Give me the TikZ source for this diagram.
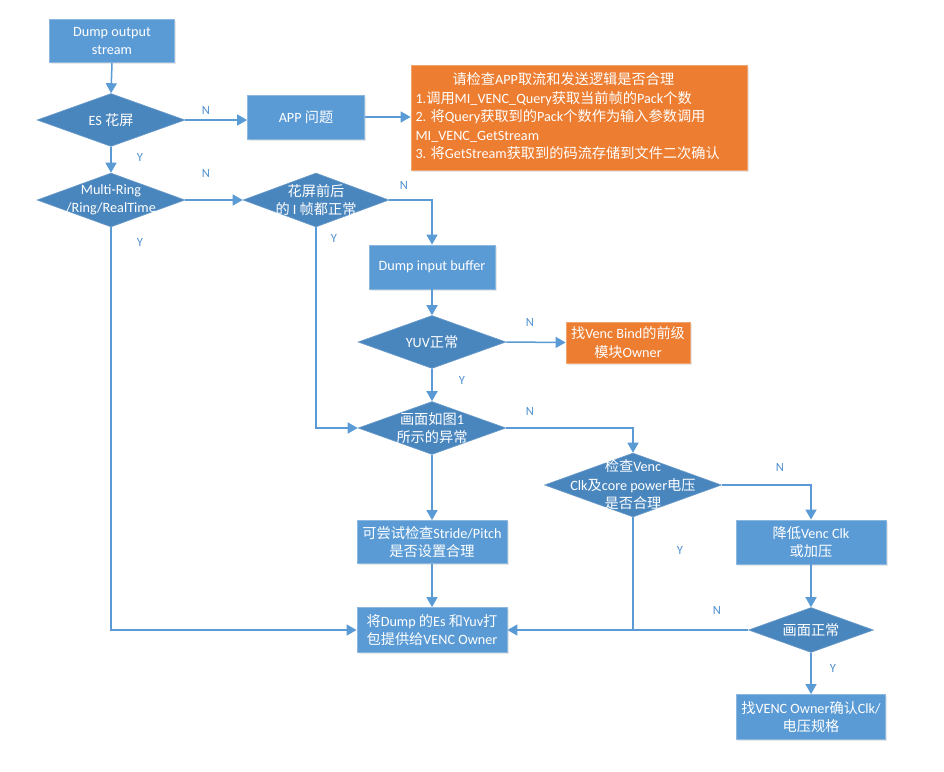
\documentclass[tikz,border=0pt]{standalone}
\usepackage{fontspec}
\setmainfont{Carlito}
\newfontfamily\cjk{Noto Sans CJK SC}
\usetikzlibrary{shapes.geometric,arrows.meta,shadows}
\XeTeXinterchartokenstate=1
\newXeTeXintercharclass\CJKcls
\newcount\cjkcnt
\cjkcnt="4E00
\loop
  \XeTeXcharclass\cjkcnt=\CJKcls
  \ifnum\cjkcnt<"9FFF \advance\cjkcnt by 1 \repeat
\XeTeXinterchartoks 0 \CJKcls = {\cjk}
\XeTeXinterchartoks 4095 \CJKcls = {\cjk}
\XeTeXinterchartoks \CJKcls 0 = {\normalfont}
\XeTeXinterchartoks \CJKcls 4095 = {\normalfont}
\definecolor{boxblue}{HTML}{5B9BD5}
\definecolor{boxedge}{HTML}{8CB8E0}
\definecolor{diablue}{HTML}{4A86BE}
\definecolor{orangebox}{HTML}{ED7D31}
\definecolor{lineblue}{HTML}{5B9BD5}
\definecolor{lblblue}{HTML}{4F90CF}
\tikzset{
  txt/.style={font=\fontsize{14.2}{18.5}\selectfont, text=white, align=center},
  bluebox/.style={rectangle, fill=boxblue, draw=boxedge, line width=0.8pt, inner sep=0pt,
    drop shadow={shadow xshift=1.5pt, shadow yshift=-1.5pt, opacity=0.18}},
  orbox/.style={rectangle, fill=orangebox, draw=orangebox!70!white, line width=0.8pt, inner sep=0pt,
    drop shadow={shadow xshift=1.5pt, shadow yshift=-1.5pt, opacity=0.18}},
  dia/.style={diamond, fill=diablue, draw=diablue!80!white, line width=0.6pt, inner sep=0pt},
  conn/.style={draw=lineblue, line width=1.5pt, -{Triangle[length=10pt,width=11pt]}},
  plain/.style={draw=lineblue, line width=1.5pt},
  lbl/.style={font=\fontsize{12.5}{14}\selectfont, text=lblblue}
}
\begin{document}
\begin{tikzpicture}[x=1pt,y=-1pt]
\path[use as bounding box, fill=white] (0,0) rectangle (944,771);

% nodes
\node[bluebox, minimum width=125pt, minimum height=43pt] (dos) at (112,41) {};
\node[txt] (dost) at (dos) {Dump output\\stream};

\node[dia, minimum width=148pt, minimum height=53pt] (es) at (111,120) {};
\node[txt] (est) at (es) {ES 花屏};

\node[bluebox, minimum width=117pt, minimum height=44pt] (app) at (306,117) {};
\node[txt] (appt) at (app) {APP 问题};

\node[orbox, minimum width=336pt, minimum height=105pt] (org1) at (579,117.5) {};
\node[txt, align=left, anchor=north west] (org1t) at (412,69)
  {\hspace*{37pt}请检查APP取流和发送逻辑是否合理\\
   1.调用MI\_VENC\_Query获取当前帧的Pack个数\\
   2. 将Query获取到的Pack个数作为输入参数调用\\
   MI\_VENC\_GetStream\\
   3. 将GetStream获取到的码流存储到文件二次确认};

\node[dia, minimum width=148pt, minimum height=54pt] (mr) at (111,200) {};
\node[txt] (mrt) at (mr) {Multi-Ring\\/Ring/RealTime};

\node[dia, minimum width=146pt, minimum height=54pt] (hp) at (316,200) {};
\node[txt] (hpt) at (hp) {花屏前后\\的 I 帧都正常};

\node[bluebox, minimum width=126pt, minimum height=44pt] (dib) at (432,267) {};
\node[txt] (dibt) at (dib) {Dump input buffer};

\node[dia, minimum width=148pt, minimum height=53pt] (yuv) at (432,342) {};
\node[txt] (yuvt) at (yuv) {YUV正常};

\node[orbox, minimum width=124pt, minimum height=41pt] (org2) at (628,342.5) {};
\node[txt] (org2t) at (org2) {找Venc Bind的前级\\模块Owner};

\node[dia, minimum width=148pt, minimum height=53pt] (hm) at (432,428) {};
\node[txt] (hmt) at (hm) {画面如图1\\所示的异常};

\node[dia, minimum width=177pt, minimum height=64pt] (jc) at (633,485) {};
\node[txt] (jct) at (jc) {检查Venc\\Clk及core power电压\\是否合理};

\node[bluebox, minimum width=150pt, minimum height=44pt] (jd) at (811,542) {};
\node[txt] (jdt) at (jd) {降低Venc Clk\\或加压};

\node[dia, minimum width=125pt, minimum height=45pt] (hz) at (811,630) {};
\node[txt] (hzt) at (hz) {画面正常};

\node[bluebox, minimum width=149pt, minimum height=45pt] (zv) at (811,717) {};
\node[txt] (zvt) at (zv) {找VENC Owner确认Clk/\\电压规格};

\node[bluebox, minimum width=150pt, minimum height=43pt] (kc) at (432,542) {};
\node[txt] (kct) at (kc) {可尝试检查Stride/Pitch\\是否设置合理};

\node[bluebox, minimum width=150pt, minimum height=45pt] (jdump) at (432,630) {};
\node[txt] (jdumpt) at (jdump) {将Dump 的Es 和Yuv打\\包提供给VENC Owner};

\coordinate (jn) at (jc.south |- hz.west);

% connectors
\draw[conn] (dos.south) -- (es.north);
\draw[conn] (es.east) -- (es.east -| app.west);
\draw[conn] (app.east) -- (org1.west |- app.east);
\draw[conn] (es.south) -- (mr.north);
\draw[conn] (mr.east) -- (hp.west);
\draw[conn] (hp.east) -| (dib.north);
\draw[conn] (hp.south) |- (hm.west);
\draw[conn] (mr.south) |- (jdump.west);
\draw[conn] (dib.south) -- (yuv.north);
\draw[conn] (yuv.east) -- (org2.west);
\draw[conn] (yuv.south) -- (hm.north);
\draw[conn] (hm.east) -| (jc.north);
\draw[conn] (hm.south) -- (kc.north);
\draw[conn] (kc.south) -- (jdump.north);
\draw[conn] (jc.east) -| (jd.north);
\draw[conn] (jd.south) -- (hz.north);
\draw[conn] (hz.south) -- (zv.north);
\draw[conn] (hz.west) -- (jdump.east);
\draw[plain] (jc.south) -- (jn);

% labels
\node[lbl] (l1) at (206,110) {N};
\node[lbl] (l2) at (140,157) {Y};
\node[lbl] (l3) at (206,173) {N};
\node[lbl] (l4) at (140,242) {Y};
\node[lbl] (l5) at (404,185) {N};
\node[lbl] (l6) at (334,238) {Y};
\node[lbl] (l7) at (530,322) {N};
\node[lbl] (l8) at (462,380) {Y};
\node[lbl] (l9) at (530,411) {N};
\node[lbl] (l10) at (780,467) {N};
\node[lbl] (l11) at (680,550) {Y};
\node[lbl] (l12) at (717,610) {N};
\node[lbl] (l13) at (833,668) {Y};
\end{tikzpicture}
\end{document}
